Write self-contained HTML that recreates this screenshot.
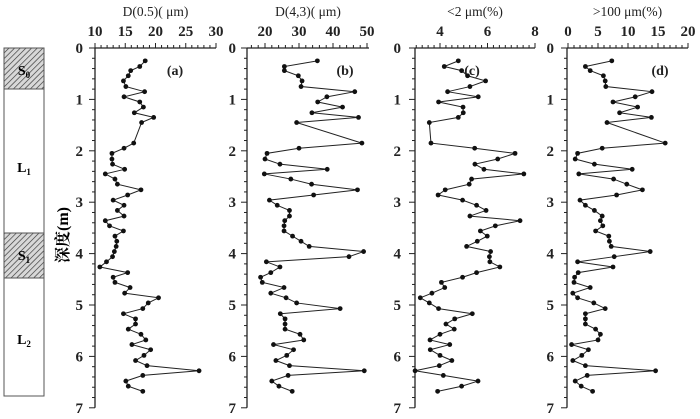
<!DOCTYPE html>
<html><head><meta charset="utf-8"><style>
html,body{margin:0;padding:0;background:#fff;}
svg{display:block;font-family:"Liberation Serif","Noto Serif CJK SC",serif;}
</style></head><body>
<svg id="chart" width="700" height="419" viewBox="0 0 700 419">
  <defs>
    <pattern id="hatch" width="4" height="4" patternUnits="userSpaceOnUse" patternTransform="rotate(45)">
      <rect width="4" height="4" fill="#d8d8d8"/>
      <line x1="0" y1="0" x2="0" y2="4" stroke="#333" stroke-width="1.3"/>
    </pattern>
  </defs>
  <g>
    <rect x="4" y="48" width="40" height="348" fill="#fff" stroke="#555" stroke-width="1"/>
    <rect x="4" y="48" width="40" height="41" fill="url(#hatch)" stroke="#555"/>
    <rect x="4" y="233" width="40" height="45" fill="url(#hatch)" stroke="#555"/>
    <text x="24" y="75" font-size="14" text-anchor="middle" font-weight="bold">S<tspan font-size="9" dy="3">0</tspan></text>
    <text x="24" y="172" font-size="14" text-anchor="middle" font-weight="bold">L<tspan font-size="9" dy="3">1</tspan></text>
    <text x="24" y="260" font-size="14" text-anchor="middle" font-weight="bold">S<tspan font-size="9" dy="3">1</tspan></text>
    <text x="24" y="344" font-size="14" text-anchor="middle" font-weight="bold">L<tspan font-size="9" dy="3">2</tspan></text>
  </g>
  <text x="0" y="0" font-size="16" font-weight="bold" text-anchor="middle" transform="translate(68,235) rotate(-90)">深度(m)</text>
  <g id="plots"></g>
</svg>
<script>
const depths = [0.25,0.36,0.44,0.54,0.64,0.75,0.85,0.95,1.05,1.15,1.26,1.35,1.45,1.85,1.95,2.05,2.16,2.26,2.36,2.45,2.55,2.65,2.76,2.86,2.96,3.06,3.16,3.27,3.36,3.46,3.56,3.66,3.76,3.86,3.96,4.06,4.16,4.26,4.37,4.46,4.56,4.66,4.77,4.86,4.96,5.07,5.17,5.27,5.37,5.47,5.57,5.68,5.77,5.87,5.98,6.08,6.18,6.28,6.37,6.48,6.58,6.68];
const valuesA = [18.3,17.4,15.9,15.5,14.7,15.1,18.2,14.8,17.4,18,16.5,19.7,17.7,16.4,14.8,12.8,12.8,12.9,14.9,11.7,13.3,13.7,17.6,15.4,13,14.8,13.7,14.8,11.7,12.4,14.7,13.3,13.6,13.5,13.2,12.9,11.9,10.8,15.4,13,13.3,15.8,14.9,20.5,18.8,17.9,14.7,16.7,16.7,15.5,17.6,18.4,16.1,19.2,18.1,16.7,18.6,27.2,17.9,15.1,15.5,17.9];
const valuesB = [35.4,25.7,25.7,29.8,30.9,30.6,46.4,38.2,35.5,42.8,33.8,47.5,29.3,48.5,30,20.6,20,24.4,38.3,19.8,27.6,33.7,47.2,34.3,21.3,23.6,27.2,27.2,25.8,25.6,25.6,28.1,30.6,33,49,44.7,20.4,24.4,21.7,18.7,19.2,25.6,21.7,26.2,29.3,42.1,24.5,25.9,25.9,25.9,30.3,31.4,22.5,28.4,26.4,23.2,27.2,49.2,26.8,22,24.1,28];
const valuesC = [4.77,4.18,4.91,5.16,5.92,5.26,4.32,5.61,3.94,4.97,4.98,4.77,3.55,3.62,5.46,7.16,6.43,5.47,5.85,7.53,5.33,5.23,4.22,3.92,4.95,5.54,5.94,5.26,7.37,6.33,5.7,5.99,5.57,5.12,6.13,6.08,6.1,6.52,5.54,4.95,4.06,4.2,3.66,3.17,3.55,3.94,5.36,4.62,4.25,4.6,4,3.58,4.41,3.59,4,4.5,3.97,2.95,4.14,5.6,4.91,3.9];
const valuesD = [7.3,2.9,3.7,5.9,6.2,6.3,14,11.2,7.5,11.6,8.6,13.9,6.5,16.2,5.7,1.6,1.2,4.4,10.7,1.8,7.6,9.8,12.4,8.1,2,2.9,4.4,5.7,5.4,5.8,4.6,6.8,6.9,7.2,13.7,7.7,1.6,7.5,1.7,1.1,1,3.7,0.8,1.6,4.3,6.2,2.9,2.9,2.9,4.6,5.4,5,0.6,3.4,2.3,0.8,2.9,14.6,3.2,1.2,2.2,4.1];
const depthTicks = [0,1,2,3,4,5,6,7];
const ticksA = [10,15,20,25,30];
const ticksB = [20,30,40,50];
const ticksC = [4,6,8];
const ticksD = [0,5,10,15,20];
const titles = ["D(0.5)( \u03bcm)","D(4,3)( \u03bcm)","<2  \u03bcm(%)",">100  \u03bcm(%)"];
const panelLabels = ["(a)","(b)","(c)","(d)"];

const NS = "http://www.w3.org/2000/svg";
const root = document.getElementById('plots');
const Y0 = 48, PXM = 51.4;
function yScale(d){ return Y0 + d*PXM; }
function mk(tag, attrs, parent){ const e=document.createElementNS(NS,tag); for(const k in attrs) e.setAttribute(k,attrs[k]); parent.appendChild(e); return e; }

const panels = [
  {vals:valuesA, ticks:ticksA, axisX:95, right:216, v0:10, x0:95, k:6.05, minor:1, lab:175, depthLabX:83},
  {vals:valuesB, ticks:ticksB, axisX:247, right:369, v0:20, x0:265, k:3.4, minor:2, lab:345, depthLabX:236},
  {vals:valuesC, ticks:ticksC, axisX:415, right:535, v0:4, x0:440, k:23.75, minor:0.25, lab:472, depthLabX:401},
  {vals:valuesD, ticks:ticksD, axisX:567, right:688, v0:0, x0:568, k:6, minor:1, lab:660, depthLabX:554}
];
panels.forEach((p,i)=>{
  const g = mk('g',{},root);
  
  
  const xs = v => p.x0 + (v - p.v0)*p.k;
  const ya = mk('line',{x1:p.axisX,y1:Y0,x2:p.axisX,y2:yScale(7),stroke:'#222','stroke-width':1.3},g);
  
  
  for(let d=0; d<=7.001; d+=0.2){
    const major = Math.abs(d-Math.round(d))<0.01;
    mk('line',{x1:p.axisX-(major?6:3),y1:yScale(d),x2:p.axisX,y2:yScale(d),stroke:'#222','stroke-width':1},g);
  }
  depthTicks.forEach(d=>{
    const t = mk('text',{x:p.depthLabX,y:yScale(d)+5,'font-size':15,'text-anchor':'end','font-weight':'bold',fill:'#222'},g);
    t.textContent = d;
    
    
  });
  const xa = mk('line',{x1:p.axisX,y1:Y0,x2:p.right,y2:Y0,stroke:'#222','stroke-width':1.3},g);
  
  
  const vmin = p.v0 + (p.axisX - p.x0)/p.k, vmax = p.v0 + (p.right - p.x0)/p.k;
  for(let v=Math.ceil(vmin/p.minor)*p.minor; v<=vmax+1e-6; v+=p.minor){
    const isMaj = p.ticks.some(t=>Math.abs(t-v)<1e-6);
    mk('line',{x1:xs(v),y1:Y0,x2:xs(v),y2:Y0-(isMaj?5:3),stroke:'#222','stroke-width':1},g);
  }
  p.ticks.forEach(v=>{
    const t = mk('text',{x:xs(v),y:36,'font-size':15,'text-anchor':'middle','font-weight':'bold',fill:'#222'},g);
    t.textContent = v;
    
    
  });
  const tt = mk('text',{x:(p.axisX+p.right)/2,y:16,'font-size':13.5,'text-anchor':'middle',fill:'#222','xml:space':'preserve'},g);
  tt.textContent = titles[i];
  
  
  const pl = mk('text',{x:p.lab,y:75,'font-size':14,'text-anchor':'middle','font-weight':'bold',fill:'#222'},g);
  pl.textContent = panelLabels[i];
  
  
  const pts = depths.map((d,j)=>[Math.max(p.axisX, xs(p.vals[j])), yScale(d)]);
  const line = mk('polyline',{points:pts.map(q=>q.join(',')).join(' '),fill:'none',stroke:'#222','stroke-width':1},g);
  
  
  pts.forEach(q=>{
    const c = mk('circle',{cx:q[0],cy:q[1],r:2.4,fill:'#111'},g);
    
    
  });
});
</script>
</body></html>
